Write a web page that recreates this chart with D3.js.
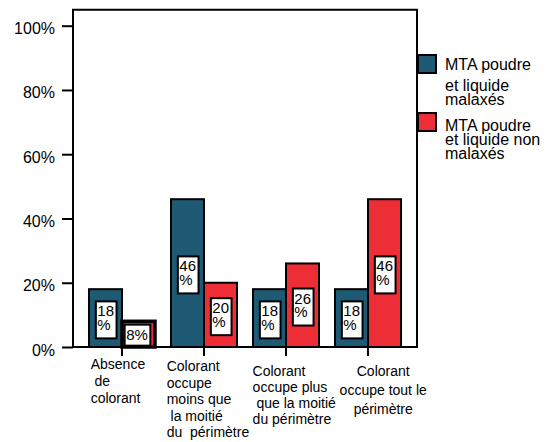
<!DOCTYPE html>
<html>
<head>
<meta charset="utf-8">
<script src="https://cdn.jsdelivr.net/npm/d3@7"></script>
<style>
  html, body { margin: 0; padding: 0; background: #fff; }
  svg { display: block; font-family: "Liberation Sans", Arial, sans-serif; }
  text { white-space: pre; }
</style>
</head>
<body>
<svg id="chart" width="548" height="442"></svg>
<script>
// Category labels (each entry is the list of lines shown under the tick)
const categories = ["abs", "moins", "plus", "tout"];
const categoryLines = [
  ["Absence", " de", "colorant"],
  ["Colorant", "occupe", "moins que", " la moitié", "du  périmètre"],
  ["Colorant", "occupe plus", " que la moitié", "du périmètre"],
  ["Colorant", "occupe tout le", "périmètre"]
];
const seriesNames = ["malaxes", "nonMalaxes"];
const seriesLegend = [
  ["MTA poudre", "et liquide", "malaxés"],
  ["MTA poudre", "et liquide non", "malaxés"]
];
const malaxes = [18, 46, 18, 18];       // % per category
const nonMalaxes = [8, 20, 26, 46];     // % per category
const yTicks = [0, 20, 40, 60, 80, 100];

const colors = { malaxes: "#1e5a74", nonMalaxes: "#ee2e37" };
const valuesBySeries = { malaxes, nonMalaxes };

const svg = d3.select("#chart");
const left = 73, right = 417, bottom = 347;

const y = d3.scaleLinear().domain([0, 100]).range([bottom, 25.7]);
const x = d3.scaleBand().domain(categories).range([left, right]).padding(0.195);
const xs = d3.scaleBand().domain(seriesNames).range([0, x.bandwidth()]);

// Bars
const rows = [];
categories.forEach((c, i) => {
  seriesNames.forEach(s => rows.push({ cat: c, i, series: s, value: valuesBySeries[s][i] }));
});

const g = svg.append("g");
g.selectAll("rect.bar").data(rows).join("rect")
  .attr("class", "bar")
  .attr("x", d => x(d.cat) + xs(d.series))
  .attr("y", d => y(d.value))
  .attr("width", xs.bandwidth())
  .attr("height", d => y(0) - y(d.value))
  .attr("fill", d => colors[d.series])
  .attr("stroke", "#000")
  .attr("stroke-width", d => d.value < 10 ? 3.5 : 2);

// Value labels in white boxes at the middle of each bar
const lab = g.selectAll("g.lab").data(rows).join("g").attr("class", "lab");
lab.each(function (d) {
  const el = d3.select(this);
  const lines = d.value < 10 ? [d.value + "%"] : [String(d.value), "%"];
  const rect = el.append("rect").attr("fill", "#fff").attr("stroke", "#000").attr("stroke-width", 2);
  const t = el.append("text").attr("font-size", 15).attr("fill", "#000");
  lines.forEach((ln, k) => t.append("tspan").attr("x", 0).attr("y", k * 13.5).text(ln));
  let w = 0;
  t.selectAll("tspan").each(function () { w = Math.max(w, this.getComputedTextLength()); });
  const bw = w + 4;
  const bh = lines.length === 1 ? 21 : 37;
  const cx = x(d.cat) + xs(d.series) + xs.bandwidth() / 2 + (lines.length === 1 ? -1 : 0.7);
  const cy = (y(d.value) + y(0)) / 2 + (lines.length === 1 ? 1 : 1.8);
  rect.attr("x", cx - bw / 2).attr("y", cy - bh / 2).attr("width", bw).attr("height", bh);
  t.attr("transform", `translate(${cx - bw / 2 + 1.5},${cy - bh / 2 + 15})`);
});

// Frame (left axis line, top and right edges, baseline)
svg.append("path")
  .attr("d", `M${left},${bottom}V${y(105)}H${right}V${bottom}H${left}`)
  .attr("fill", "none").attr("stroke", "#000").attr("stroke-width", 2);

// Y axis
const yAxis = svg.append("g").attr("transform", `translate(${left},0)`)
  .call(d3.axisLeft(y).tickValues(yTicks).tickFormat(d => d + "%").tickSize(11).tickPadding(7));
yAxis.select(".domain").remove();
yAxis.selectAll(".tick line").attr("stroke", "#000").attr("stroke-width", 2);
yAxis.selectAll(".tick text").attr("font-size", 16).attr("fill", "#000")
  .attr("font-family", "Liberation Sans, Arial, sans-serif").attr("dy", "0.5em");

// X axis ticks at category centres
const xAxis = svg.append("g").attr("transform", `translate(0,${bottom})`)
  .call(d3.axisBottom(x).tickSize(9).tickFormat(""));
xAxis.select(".domain").remove();
xAxis.selectAll(".tick line").attr("stroke", "#000").attr("stroke-width", 2);

// Multi-line category labels
const labelLayout = [
  { dx: -31.3, anchor: "start", top: 369, lh: 17.2 },
  { dx: -37.3, anchor: "start", top: 371, lh: 16.6 },
  { dx: -33.4, anchor: "start", top: 376, lh: 16 },
  { dx: 15.2, anchor: "middle", top: 376, lh: 19 }
];
categories.forEach((c, i) => {
  const L = labelLayout[i];
  const cxp = x(c) + x.bandwidth() / 2;
  const t = svg.append("text").attr("font-size", 14).attr("fill", "#000")
    .attr("text-anchor", L.anchor);
  categoryLines[i].forEach((ln, k) => {
    t.append("tspan").attr("x", cxp + L.dx).attr("y", L.top + k * L.lh).text(ln);
  });
});

// Legend
const legendLayout = [
  { top: 55, base: 69.5, offs: [0, 21.5, 35.5] },
  { top: 113, base: 131, offs: [0, 14, 27.5] }
];
seriesNames.forEach((s, i) => {
  const L = legendLayout[i];
  svg.append("rect").attr("x", right + 1).attr("y", L.top).attr("width", 18).attr("height", 18)
    .attr("fill", colors[s]).attr("stroke", "#000").attr("stroke-width", 2);
  const t = svg.append("text").attr("font-size", 16).attr("fill", "#000");
  seriesLegend[i].forEach((ln, k) => {
    t.append("tspan").attr("x", 445).attr("y", L.base + L.offs[k]).text(ln);
  });
});
</script>
</body>
</html>
